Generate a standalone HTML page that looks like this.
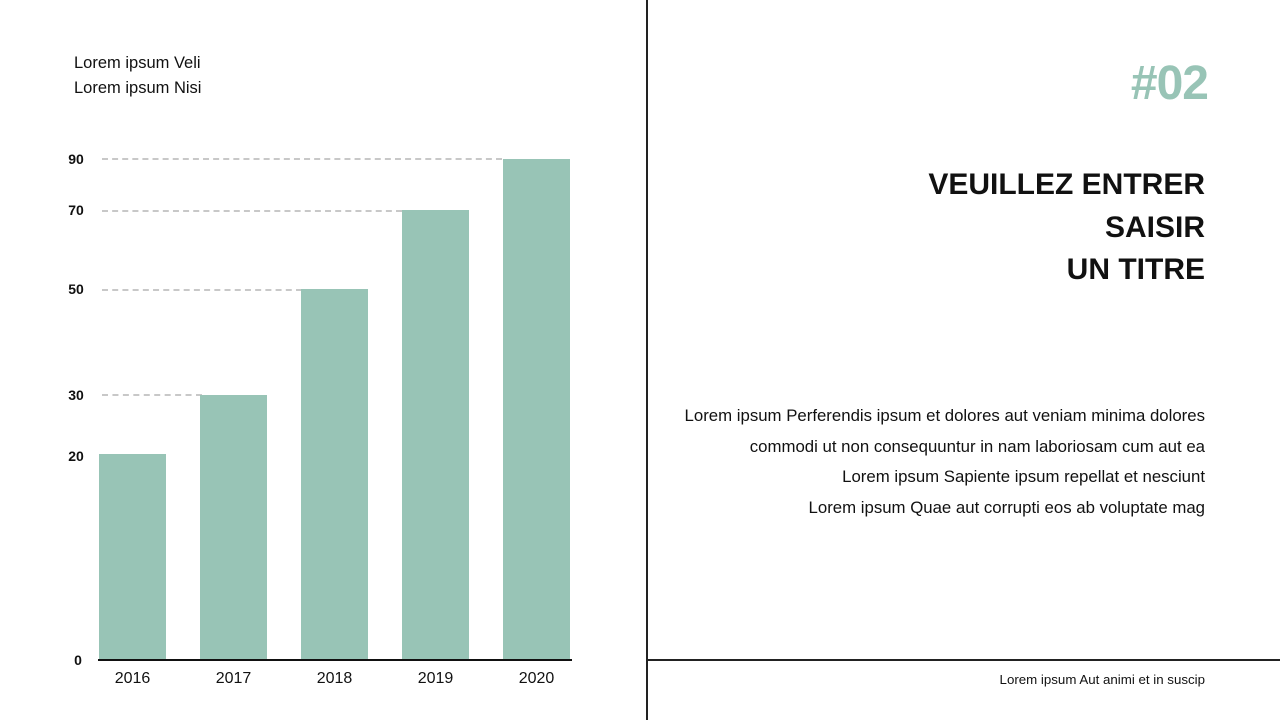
<!DOCTYPE html>
<html><head><meta charset="utf-8"><style>
body{margin:0;width:1280px;height:720px;background:#fff;position:relative;overflow:hidden;font-family:"Liberation Sans",sans-serif;color:#111}
.a{position:absolute}
.bar{position:absolute;background:#98c4b6}
.g{position:absolute;left:102px;border-top:2px dashed #c8c8c8;height:0}
.yl{position:absolute;left:62px;width:28px;text-align:center;font-size:14px;font-weight:bold}
.xl{position:absolute;top:670px;width:67px;text-align:center;font-size:16px}
.r{position:absolute;right:75px;text-align:right}
</style></head><body>
<div class="a" style="left:74px;top:51px;font-size:16.5px;line-height:25px">Lorem ipsum Veli<br>Lorem ipsum Nisi</div>
<div class="g" style="top:158px;width:400px"></div>
<div class="g" style="top:210px;width:300px"></div>
<div class="g" style="top:289px;width:200px"></div>
<div class="g" style="top:394px;width:100px"></div>
<div class="yl" style="top:151px">90</div>
<div class="yl" style="top:202px">70</div>
<div class="yl" style="top:281px">50</div>
<div class="yl" style="top:387px">30</div>
<div class="yl" style="top:448px">20</div>
<div class="yl" style="top:652px;left:64px">0</div>
<div class="bar" style="left:99px;width:67px;top:454px;height:206px"></div>
<div class="bar" style="left:200px;width:67px;top:395px;height:265px"></div>
<div class="bar" style="left:301px;width:67px;top:289px;height:371px"></div>
<div class="bar" style="left:402px;width:67px;top:210px;height:450px"></div>
<div class="bar" style="left:503px;width:67px;top:159px;height:501px"></div>
<div class="a" style="left:98px;top:659px;width:474px;height:2px;background:#111"></div>
<div class="xl" style="left:99px">2016</div>
<div class="xl" style="left:200px">2017</div>
<div class="xl" style="left:301px">2018</div>
<div class="xl" style="left:402px">2019</div>
<div class="xl" style="left:503px">2020</div>
<div class="a" style="left:646px;top:0;width:2px;height:720px;background:#222"></div>
<div class="a" style="left:647px;top:659px;width:633px;height:2px;background:#222"></div>
<div class="r" style="top:56px;font-size:48px;font-weight:bold;color:#98c4b6;right:72px;letter-spacing:-1px">#02</div>
<div class="r" style="top:164px;font-size:30px;font-weight:bold;line-height:42.5px">VEUILLEZ ENTRER<br>SAISIR<br>UN TITRE</div>
<div class="r" style="top:401px;font-size:16.8px;line-height:30.5px">Lorem ipsum Perferendis ipsum et dolores aut veniam minima dolores<br>commodi ut non consequuntur in nam laboriosam cum aut ea<br>Lorem ipsum Sapiente ipsum repellat et nesciunt<br>Lorem ipsum Quae aut corrupti eos ab voluptate mag</div>
<div class="r" style="top:672px;font-size:13.3px">Lorem ipsum Aut animi et in suscip</div>
</body></html>
